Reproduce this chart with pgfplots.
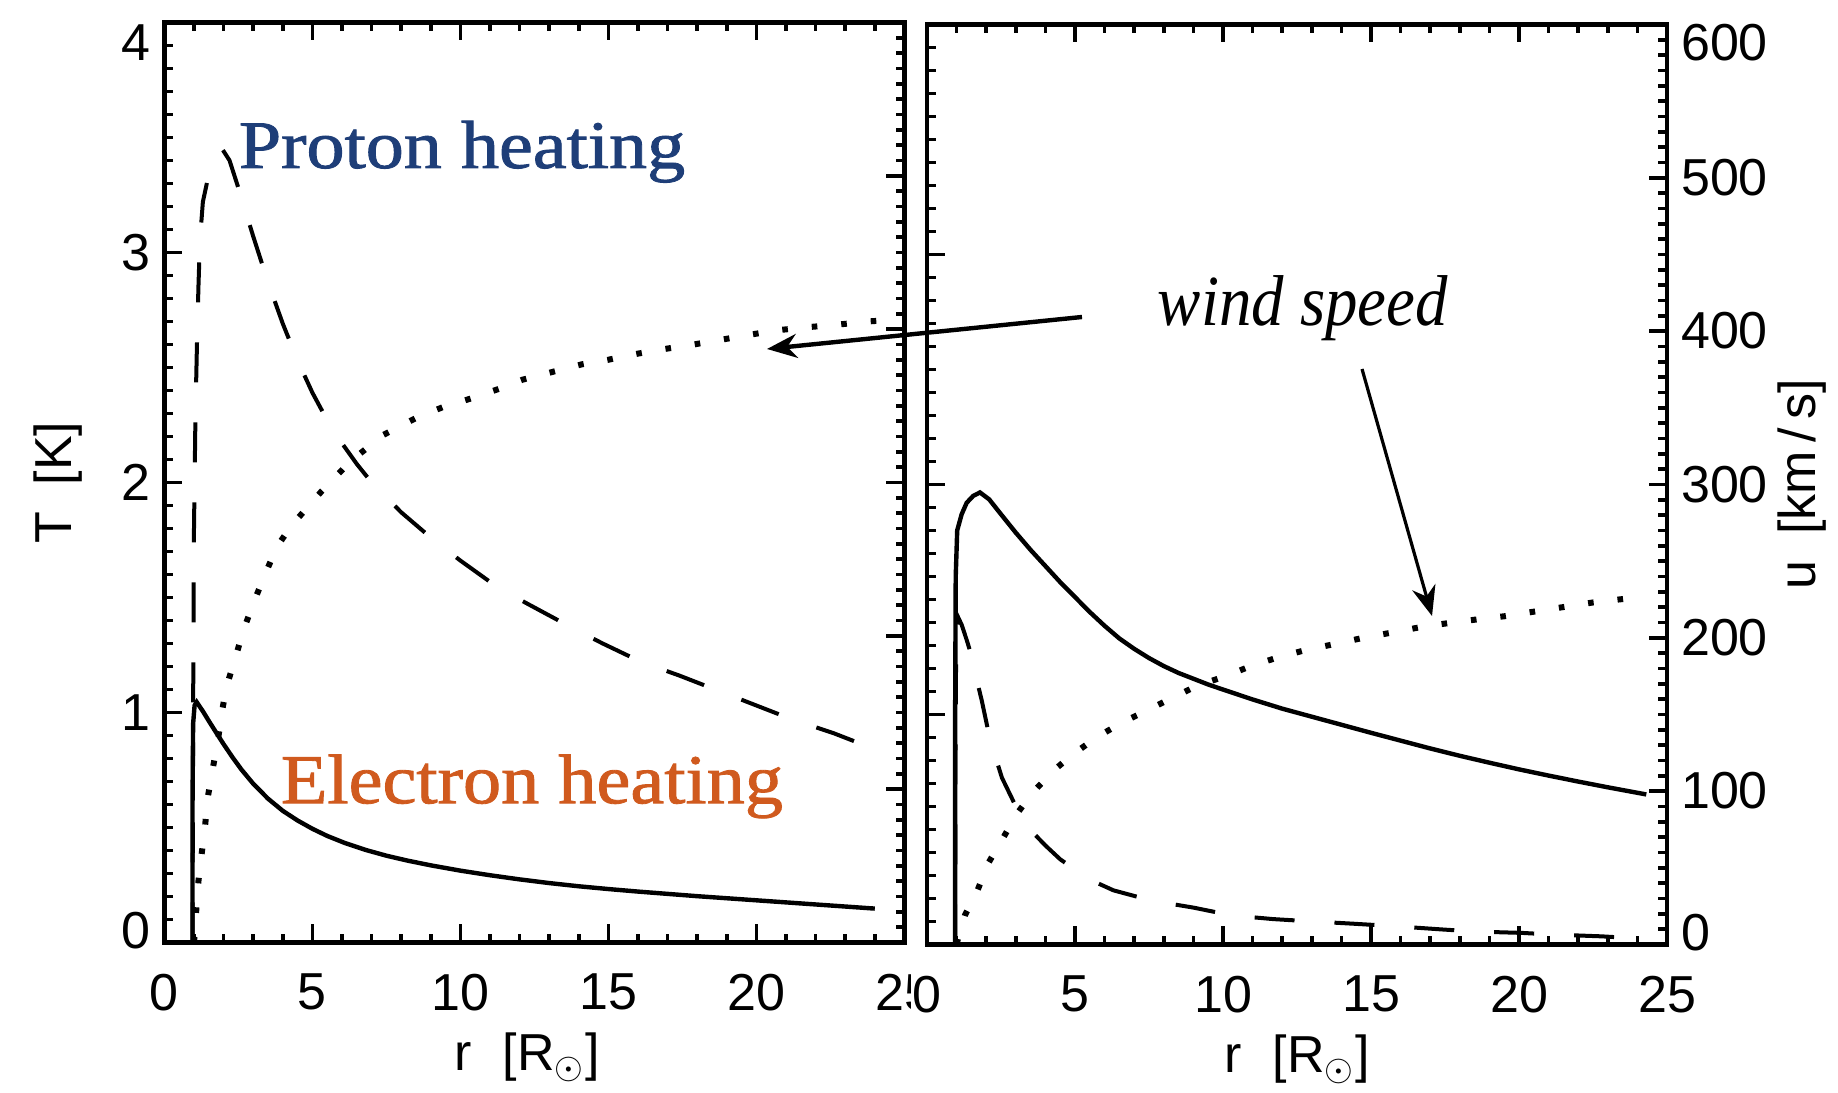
\documentclass[border=0pt]{standalone}
\usepackage{fontspec}
\setmainfont{Liberation Serif}
\newfontfamily\sansf{Liberation Sans}
\newfontfamily\annfont[FakeBold=1.2]{Liberation Serif}
\usepackage{graphicx}
\usepackage{pgfplots}
\pgfplotsset{compat=1.18}
\usetikzlibrary{arrows.meta}
\definecolor{protonblue}{RGB}{30,62,120}
\definecolor{electronorange}{RGB}{208,90,30}

\newcommand{\dn}[2]{\raisebox{#1}[\height][\depth]{#2}}

\pgfplotsset{
  panel/.style={
    scale only axis,
    anchor=south west,
    width=185pt, height=230pt,
    xmin=0, xmax=25,
    axis line style={line width=1.2pt},
    tick style={black, line width=0.9pt},
    major tick length=4.5pt,
    minor tick length=2.2pt,
    tick align=inside,
    tick label style={font=\sansf\fontsize{13}{13}\selectfont},
    /pgf/number format/assume math mode=true,
    label style={font=\sansf\fontsize{13}{13}\selectfont},
  },
  Tax/.style={panel, ymin=0, ymax=4, ytick={0,1,2,3,4}, minor y tick num=9, ytick pos=left,
    xtick={0,5,...,25}, minor x tick num=4, xtick pos=both, xticklabel pos=lower,
    xticklabel style={yshift=-4.3pt},
  },
  uax/.style={panel, ymin=0, ymax=600, ytick={0,100,...,600}, minor y tick num=9,
    ytick pos=right, hide x axis},
  Te/.style={line width=1.1pt, black},
  Tp/.style={line width=1.0pt, black, dash pattern=on 10pt off 10pt},
  wind/.style={line width=1.5pt, black, dash pattern=on 1.4pt off 6pt},
}

\begin{document}
\begin{tikzpicture}
\useasboundingbox (0,0) rectangle (459.5pt,273pt);

% ---------------- left panel: temperatures ----------------
\begin{axis}[Tax, at={(41.1pt,37.4pt)},
  yticklabels={{\dn{3pt}{0}},1,2,3,{\dn{-5pt}{4}}},
  ylabel={T\hspace{0.5em}[K]},
  ylabel style={at={(axis description cs:-0.144,0.5)}, anchor=center},
  xlabel={r\hspace{0.6em}[R$_\odot$]},
  xlabel style={at={(axis description cs:0.49,-0.125)}, anchor=center},
]
\addplot[Tp] coordinates {
(0.95,0) (0.97,1.0) (1.0,1.8) (1.05,2.3) (1.1,2.6) (1.15,2.85) (1.2,3.05) (1.3,3.22)
(1.5,3.34) (1.75,3.43) (1.95,3.45) (2.2,3.40) (2.5,3.28) (3.0,3.07) (3.5,2.87) (4.0,2.69)
(4.5,2.53) (5.0,2.39) (5.5,2.27) (6.0,2.17) (6.5,2.08) (7.0,2.00) (8.0,1.87) (9.0,1.76)
(10.0,1.66) (11.3,1.54) (12.3,1.47) (13.6,1.38) (14.8,1.30) (16.1,1.22) (17.4,1.16)
(18.8,1.09) (20.0,1.03) (21.2,0.97) (22.6,0.91) (24.0,0.84)
};
\addplot[Te] coordinates {
(0.95,0) (0.95,0.6) (0.97,0.95) (1.02,1.03) (1.09,1.045) (1.3,1.005) (1.5,0.963)
(1.75,0.912) (2.0,0.862) (2.3,0.805) (2.6,0.752) (3.0,0.69) (3.5,0.625) (4.0,0.572)
(4.5,0.53) (5.0,0.494) (5.5,0.463) (6.1,0.432) (6.8,0.402) (7.5,0.377) (8.2,0.356)
(9.0,0.335) (10.0,0.312) (11.0,0.292) (12.0,0.274) (13.0,0.258) (14.0,0.244) (15.0,0.232)
(16.0,0.221) (17.0,0.211) (18.0,0.201) (19.0,0.192) (20.0,0.183) (21.0,0.174) (22.0,0.165)
(23.0,0.156) (24.0,0.147)
};
\end{axis}
% ---------------- left panel: wind speed ----------------
\begin{axis}[uax, at={(41.1pt,37.4pt)}, yticklabels={}]
\addplot[wind] coordinates {
(1.0,0) (1.02,5) (1.08,22) (1.15,40) (1.26,58) (1.37,75) (1.46,94) (1.64,114) (1.81,132)
(1.94,150) (2.1,167) (2.39,185) (2.66,203) (3.0,221) (3.4,240) (3.8,258) (4.3,272)
(5.3,294) (6.3,314) (7.4,331) (8.6,343) (9.4,349) (10.4,355) (11.3,361) (12.1,367)
(13.1,372) (14.1,377) (15.0,380) (16.0,384) (16.9,387) (17.9,390) (18.8,393) (19.7,396)
(20.6,399) (21.6,401) (22.8,403) (23.8,405) (24.6,406)
};
\end{axis}

% ---------------- right panel: temperatures ----------------
\begin{axis}[Tax, at={(231.75pt,36.9pt)}, yticklabels={},
  xticklabel style={fill=white, inner xsep=0.5pt},
  xlabel={r\hspace{0.6em}[R$_\odot$]},
  xlabel style={at={(axis description cs:0.5,-0.125)}, anchor=center},
]
\addplot[Tp] coordinates {
(0.95,0) (0.96,0.8) (0.98,1.2) (1.02,1.38) (1.06,1.42) (1.17,1.39) (1.35,1.32) (1.56,1.23)
(1.7,1.14) (1.85,1.06) (2.13,0.89) (2.53,0.725) (2.85,0.64) (3.15,0.56) (3.55,0.49)
(4.0,0.43) (4.5,0.37) (5.06,0.32) (5.7,0.27) (6.3,0.235) (7.6,0.19) (9.0,0.16) (10.3,0.126)
(11.7,0.11) (13.0,0.10) (14.4,0.09) (15.7,0.08) (17.4,0.065) (18.5,0.056) (20.1,0.05)
(21.1,0.043) (22.8,0.035) (24.0,0.026)
};
\addplot[Te] coordinates {
(0.95,0) (0.95,1.0) (0.97,1.6) (1.02,1.8) (1.17,1.87) (1.34,1.92) (1.56,1.95) (1.79,1.965)
(2.1,1.935) (2.5,1.87) (3.0,1.79) (3.5,1.715) (4.0,1.645) (4.5,1.575) (5.0,1.51) (5.5,1.445)
(6.0,1.385) (6.5,1.33) (7.0,1.285) (7.5,1.245) (8.0,1.21) (8.5,1.18) (9.0,1.155) (9.5,1.13)
(10.0,1.108) (11.0,1.065) (12.0,1.025) (13.0,0.99) (14.0,0.955) (15.0,0.92) (16.0,0.886)
(17.0,0.852) (18.0,0.82) (19.0,0.79) (20.0,0.761) (21.0,0.734) (22.0,0.708) (23.0,0.683)
(24.3,0.652)
};
\end{axis}
% ---------------- right panel: wind speed ----------------
\begin{axis}[uax, at={(231.75pt,36.9pt)},
  yticklabels={{\dn{3pt}{0}},100,200,300,400,500,{\dn{-4.5pt}{600}}},
  ylabel={u\hspace{0.5em}[km\,/\,s]},
  ylabel style={at={(axis description cs:1.182,0.5)}, anchor=center},
]
\addplot[wind] coordinates {
(1.0,0) (1.1,8) (1.28,19) (1.68,34) (2.07,53) (2.53,68) (3.03,85) (3.57,99) (4.25,113)
(4.93,124) (5.73,135) (6.52,144) (7.47,153) (8.31,161) (9.16,169) (10.1,175) (11.0,182)
(12.0,188) (12.8,192) (13.8,196) (14.75,200) (15.6,203) (16.7,207) (17.6,209.5) (18.6,212)
(19.5,214) (20.5,217) (21.5,220) (22.5,223) (23.4,225) (24.3,227)
};
\end{axis}

% ---------------- annotations ----------------
\node[anchor=base west, inner sep=0, text=protonblue] at (59.5pt,231pt)
  {\scalebox{1.12}[1]{\annfont\fontsize{17}{17}\selectfont Proton heating}};
\node[anchor=base west, inner sep=0, text=electronorange] at (70pt,72.2pt)
  {\scalebox{1.09}[1]{\annfont\fontsize{17.5}{17.5}\selectfont Electron heating}};
\node[anchor=base west, inner sep=0] at (289.25pt,191.5pt)
  {\scalebox{0.9}[1]{\fontsize{18}{18}\selectfont\itshape wind speed}};
\draw[line width=1.1pt, -{Stealth[length=7.5pt,width=6pt]}] (270.5pt,193.75pt) -- (191.75pt,185.75pt);
\draw[line width=0.8pt, -{Stealth[length=7.5pt,width=6pt]}] (340.5pt,180.75pt) -- (358pt,119pt);
\end{tikzpicture}
\end{document}
